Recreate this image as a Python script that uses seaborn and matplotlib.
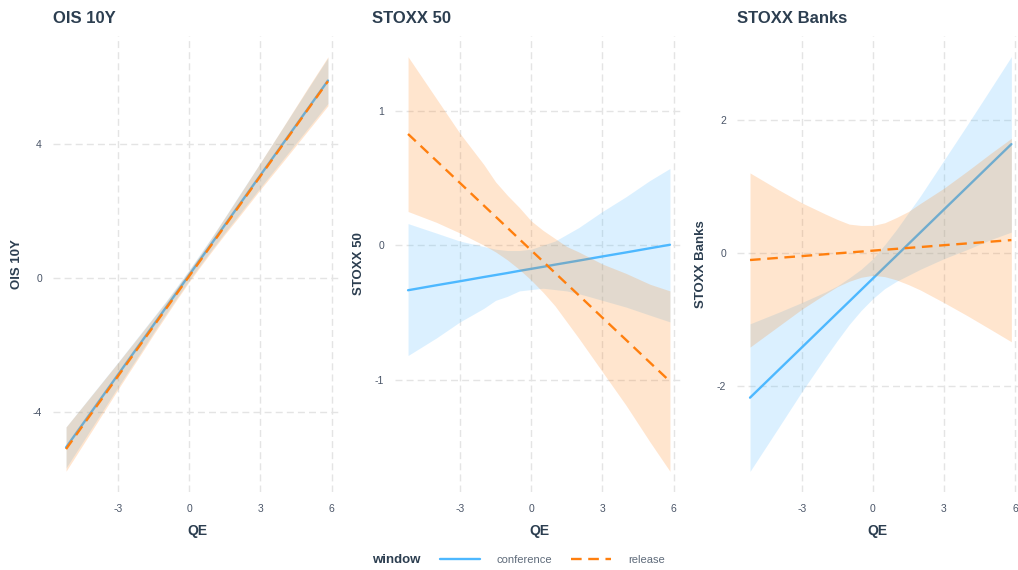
import numpy as np
import pandas as pd
import matplotlib
matplotlib.use("Agg")
import matplotlib.pyplot as plt
import seaborn as sns
from matplotlib.lines import Line2D

# ---------------- data ----------------
qe = [-5.19, -4, -3, -2, -1.5, -1, -0.5, 0, 0.5, 1, 1.5, 2, 3, 4, 5, 5.85]

# OIS 10Y
ois_conf = [-5.050, -3.871, -2.880, -1.889, -1.394, -0.898, -0.403, 0.093, 0.589, 1.084, 1.580, 2.075, 3.066, 4.057, 5.048, 5.890]
ois_conf_lo = [-5.66, -4.35, -3.25, -2.17, -1.62, -1.09, -0.57, -0.07, 0.42, 0.89, 1.35, 1.80, 2.70, 3.58, 4.46, 5.21]
ois_conf_hi = [-4.44, -3.39, -2.51, -1.61, -1.16, -0.71, -0.23, 0.25, 0.76, 1.27, 1.81, 2.36, 3.44, 4.54, 5.64, 6.57]
ois_rel = [-5.100, -3.918, -2.924, -1.930, -1.434, -0.937, -0.440, 0.057, 0.554, 1.051, 1.548, 2.044, 3.038, 4.032, 5.026, 5.870]
ois_rel_lo = [-5.76, -4.44, -3.32, -2.23, -1.68, -1.15, -0.62, -0.11, 0.37, 0.84, 1.30, 1.74, 2.64, 3.51, 4.39, 5.14]
ois_rel_hi = [-4.44, -3.40, -2.52, -1.63, -1.18, -0.73, -0.26, 0.23, 0.73, 1.26, 1.80, 2.34, 3.44, 4.55, 5.67, 6.60]

# STOXX 50
sx_conf = [-0.335, -0.298, -0.268, -0.237, -0.222, -0.207, -0.191, -0.176, -0.161, -0.145, -0.130, -0.115, -0.084, -0.054, -0.023, 0.003]
sx_conf_lo = [-0.82, -0.69, -0.57, -0.47, -0.41, -0.38, -0.34, -0.33, -0.32, -0.33, -0.34, -0.36, -0.41, -0.46, -0.52, -0.57]
sx_conf_hi = [0.16, 0.09, 0.03, -0.01, -0.03, -0.04, -0.04, -0.03, 0.00, 0.03, 0.08, 0.13, 0.25, 0.36, 0.48, 0.57]
sx_rel = [0.826, 0.628, 0.462, 0.295, 0.212, 0.129, 0.045, -0.038, -0.121, -0.205, -0.288, -0.371, -0.538, -0.704, -0.871, -1.012]
sx_rel_lo = [0.25, 0.17, 0.09, 0.00, -0.05, -0.11, -0.18, -0.26, -0.35, -0.45, -0.57, -0.69, -0.94, -1.19, -1.46, -1.68]
sx_rel_hi = [1.40, 1.09, 0.83, 0.60, 0.47, 0.37, 0.28, 0.18, 0.11, 0.05, -0.01, -0.05, -0.14, -0.21, -0.29, -0.34]

# STOXX Banks
bk_conf = [-2.171, -1.760, -1.415, -1.069, -0.896, -0.724, -0.551, -0.378, -0.205, -0.033, 0.140, 0.313, 0.659, 1.004, 1.350, 1.643]
bk_conf_lo = [-3.28, -2.63, -2.08, -1.56, -1.31, -1.07, -0.86, -0.68, -0.53, -0.42, -0.33, -0.24, -0.08, 0.06, 0.21, 0.32]
bk_conf_hi = [-1.06, -0.89, -0.74, -0.58, -0.49, -0.37, -0.24, -0.08, 0.13, 0.36, 0.61, 0.86, 1.40, 1.94, 2.49, 2.96]
bk_rel = [-0.100, -0.068, -0.041, -0.013, 0.000, 0.014, 0.027, 0.041, 0.055, 0.068, 0.082, 0.095, 0.123, 0.150, 0.177, 0.200]
bk_rel_lo = [-1.41, -1.10, -0.84, -0.61, -0.50, -0.42, -0.36, -0.33, -0.35, -0.40, -0.47, -0.55, -0.74, -0.94, -1.15, -1.33]
bk_rel_hi = [1.21, 0.96, 0.76, 0.59, 0.51, 0.44, 0.42, 0.42, 0.46, 0.54, 0.63, 0.75, 0.98, 1.24, 1.51, 1.73]

titles = ["OIS 10Y", "STOXX 50", "STOXX Banks"]
y_ticks = [[-4, 0, 4], [-1, 0, 1], [-2, 0, 2]]
x_ticks = [-3, 0, 3, 6]
windows = ["conference", "release"]

# ---------------- style ----------------
sns.set_theme(style="white")
plt.rcParams["font.family"] = ["Liberation Sans", "DejaVu Sans"]

BLUE = "#4db8ff"
ORANGE = "#ff7f0e"
DARK = "#2c3e50"
TICK = "#4a5568"
GRID = "#e4e4e4"
DASH = (0, (4.5, 2.8))

panels = [
    (ois_conf, ois_conf_lo, ois_conf_hi, ois_rel, ois_rel_lo, ois_rel_hi),
    (sx_conf, sx_conf_lo, sx_conf_hi, sx_rel, sx_rel_lo, sx_rel_hi),
    (bk_conf, bk_conf_lo, bk_conf_hi, bk_rel, bk_rel_lo, bk_rel_hi),
]

W, H = 1018, 570
fig = plt.figure(figsize=(W / 100, H / 100), dpi=100)
bottom = 1 - 492 / H
height = 456 / H
rects = [(53 / W, bottom, 288 / W, height),
         (395 / W, bottom, 288 / W, height),
         (737 / W, bottom, 281 / W, height)]
xlims = [(-5.74, 6.40), (-5.74, 6.40), (-5.74, 6.13)]
ylims = [(-6.38, 7.22), (-1.834, 1.554), (-3.59, 3.27)]
title_x = [0.0, (372 - 395) / 288, 0.0]

for i, (rect, p) in enumerate(zip(rects, panels)):
    ax = fig.add_axes(rect)
    conf, conf_lo, conf_hi, rel, rel_lo, rel_hi = p
    ax.fill_between(qe, conf_lo, conf_hi, color=BLUE, alpha=0.2, lw=0, zorder=2)
    sns.lineplot(x=qe, y=conf, ax=ax, color=BLUE, lw=1.7, zorder=3)
    ax.fill_between(qe, rel_lo, rel_hi, color=ORANGE, alpha=0.2, lw=0, zorder=4)
    sns.lineplot(x=qe, y=rel, ax=ax, color=ORANGE, lw=1.7, zorder=5)
    ax.lines[-1].set_linestyle(DASH)

    ax.set_xlim(*xlims[i])
    ax.set_ylim(*ylims[i])
    ax.set_xticks(x_ticks)
    ax.set_yticks(y_ticks[i])
    ax.set_xticklabels([str(t) for t in x_ticks])
    ax.set_yticklabels([str(t) for t in y_ticks[i]])
    ax.grid(True, color=GRID, linestyle=(0, (5, 3)), lw=1.0)
    ax.set_axisbelow(True)
    for s in ax.spines.values():
        s.set_visible(False)
    ax.tick_params(axis="both", length=0, labelsize=7.5, labelcolor=TICK)
    ax.tick_params(axis="x", pad=9)
    ax.tick_params(axis="y", pad=8)
    ax.set_xlabel("QE", fontsize=10, fontweight="bold", color=DARK, labelpad=7)
    ax.set_ylabel(titles[i], fontsize=9.5, fontweight="bold", color=DARK, labelpad=7)
    t = ax.set_title(titles[i], loc="left", fontsize=12, fontweight="bold",
                     color=DARK, pad=9.5)
    t.set_x(title_x[i])

handles = [Line2D([], [], color=BLUE, lw=1.7),
           Line2D([], [], color=ORANGE, lw=1.7, linestyle=DASH)]
leg = fig.legend(handles, windows, loc="center left",
                 bbox_to_anchor=(440 / W, 10 / H), ncol=2, frameon=False,
                 handlelength=3.6, handletextpad=1.5, columnspacing=1.7,
                 fontsize=8, borderpad=0, borderaxespad=0)
for txt in leg.get_texts():
    txt.set_color("#5f6b7a")
fig.text(396 / W, 10 / H, "window", ha="center", va="center",
         fontsize=9.5, fontweight="bold", color=DARK)

fig.savefig("out.png", dpi=100)
